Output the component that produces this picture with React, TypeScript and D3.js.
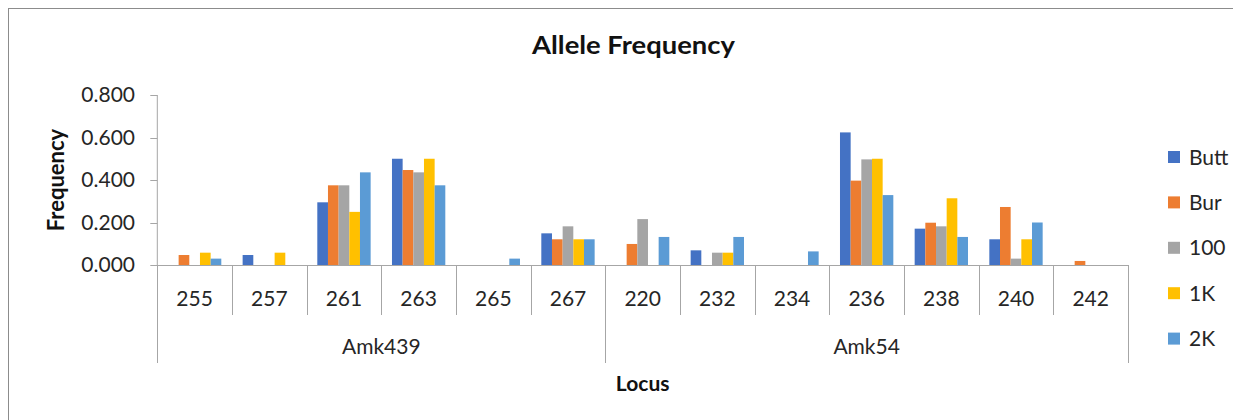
import React from "react";
import * as d3 from "d3";

const categories = ["255", "257", "261", "263", "265", "267", "220", "232", "234", "236", "238", "240", "242"];
const groups = [
  { name: "Amk439", count: 6 },
  { name: "Amk54", count: 7 },
];
const seriesNames = ["Butt", "Bur", "100", "1K", "2K"];
const seriesColors = ["#4472C4", "#ED7D31", "#A5A5A5", "#FFC000", "#5B9BD5"];

const butt = [0, 0.047, 0.295, 0.5, 0, 0.149, 0, 0.069, 0, 0.624, 0.171, 0.121, 0];
const bur = [0.047, 0, 0.375, 0.447, 0, 0.121, 0.099, 0, 0, 0.397, 0.199, 0.273, 0.019];
const s100 = [0, 0, 0.375, 0.436, 0, 0.182, 0.216, 0.058, 0, 0.497, 0.182, 0.03, 0];
const k1 = [0.058, 0.058, 0.25, 0.5, 0, 0.121, 0, 0.058, 0, 0.5, 0.314, 0.121, 0];
const k2 = [0.03, 0, 0.436, 0.375, 0.03, 0.121, 0.132, 0.132, 0.064, 0.329, 0.132, 0.2, 0];
const seriesValues = [butt, bur, s100, k1, k2];

const yTicks = [0, 0.2, 0.4, 0.6, 0.8];

const FONT = "Lato, Calibri, Carlito, 'Open Sans', sans-serif";

export default function App() {
  // page coordinates; svg sits at (8,8) due to body margin
  const left = 157.3;
  const right = 1128;
  const top = 95;
  const bottom = 265;

  const x0 = d3.scaleBand<string>().domain(categories.map((c, i) => String(i))).range([left, right]).paddingInner(0).paddingOuter(0);
  const x1 = d3.scaleBand<string>().domain(seriesNames).range([0, x0.bandwidth()]).paddingInner(0).paddingOuter(1);
  const y = d3.scaleLinear().domain([0, 0.8]).range([bottom, top]);

  const axisColor = "#a6a6a6";
  const labelColor = "#262626";

  let acc = 0;
  const groupBounds = groups.map((g) => {
    const start = acc;
    acc += g.count;
    const xs = x0(String(start))!;
    const xe = x0(String(acc - 1))! + x0.bandwidth();
    return { ...g, xs, xe };
  });

  const legendY0 = 157;
  const legendStep = 45.4;

  return (
    <svg width={1233} height={412} style={{ display: "block" }}>
      <g transform="translate(-8,-8)">
        <rect x={0} y={0} width={1250} height={430} fill="#fff" />
        <rect x={8.5} y={8.5} width={1260} height={430} fill="none" stroke="#8c8c8c" strokeWidth={1} />

        <text
          x={633.5}
          y={54}
          textAnchor="middle"
          fontFamily={FONT}
          fontWeight="bold"
          fontSize={24}
          textLength={203}
          lengthAdjust="spacingAndGlyphs"
          fill="#111"
        >
          Allele Frequency
        </text>

        {/* y axis */}
        <line x1={left} x2={left} y1={top} y2={bottom} stroke={axisColor} />
        {yTicks.map((t) => (
          <g key={t}>
            <line x1={left - 7} x2={left} y1={Math.round(y(t)) + 0.5} y2={Math.round(y(t)) + 0.5} stroke={axisColor} />
            <text x={135} y={y(t)} dy="0.35em" textAnchor="end" fontFamily={FONT} fontSize={21} fill={labelColor}>
              {d3.format(".3f")(t)}
            </text>
          </g>
        ))}
        <text
          transform={`translate(64,180) rotate(-90)`}
          textAnchor="middle"
          fontFamily={FONT}
          fontWeight="bold"
          fontSize={22}
          fill="#111"
        >
          Frequency
        </text>

        {/* bars */}
        {seriesValues.map((vals, si) =>
          vals.map((v, ci) =>
            v > 0 ? (
              <rect
                key={`${si}-${ci}`}
                x={x0(String(ci))! + x1(seriesNames[si])!}
                y={y(v)}
                width={x1.bandwidth()}
                height={y(0) - y(v)}
                fill={seriesColors[si]}
              />
            ) : null
          )
        )}

        {/* x axis */}
        <line x1={left} x2={right} y1={bottom + 0.5} y2={bottom + 0.5} stroke={axisColor} />
        {categories.map((c, i) => (
          <g key={i}>
            <line
              x1={Math.round(x0(String(i))!) + 0.5}
              x2={Math.round(x0(String(i))!) + 0.5}
              y1={bottom}
              y2={315}
              stroke={axisColor}
            />
            <text
              x={x0(String(i))! + x0.bandwidth() / 2}
              y={306}
              textAnchor="middle"
              fontFamily={FONT}
              fontSize={21}
              fill={labelColor}
            >
              {c}
            </text>
          </g>
        ))}
        {groupBounds.map((g, gi) => (
          <g key={g.name}>
            <line x1={Math.round(g.xs) + 0.5} x2={Math.round(g.xs) + 0.5} y1={bottom} y2={363} stroke={axisColor} />
            {gi === groupBounds.length - 1 && (
              <line x1={Math.round(g.xe) + 0.5} x2={Math.round(g.xe) + 0.5} y1={bottom} y2={363} stroke={axisColor} />
            )}
            <text x={(g.xs + g.xe) / 2} y={354} textAnchor="middle" fontFamily={FONT} fontSize={21} fill={labelColor}>
              {g.name}
            </text>
          </g>
        ))}
        <text x={(left + right) / 2} y={391} textAnchor="middle" fontFamily={FONT} fontWeight="bold" fontSize={21} fill="#111">
          Locus
        </text>

        {/* legend */}
        {seriesNames.map((s, i) => (
          <g key={s} transform={`translate(1168,${legendY0 + i * legendStep})`}>
            <rect x={0} y={-6} width={12} height={12} fill={seriesColors[i]} />
            <text x={21} y={0} dy="0.36em" fontFamily={FONT} fontSize={21} fill={labelColor}>
              {s}
            </text>
          </g>
        ))}
      </g>
    </svg>
  );
}
